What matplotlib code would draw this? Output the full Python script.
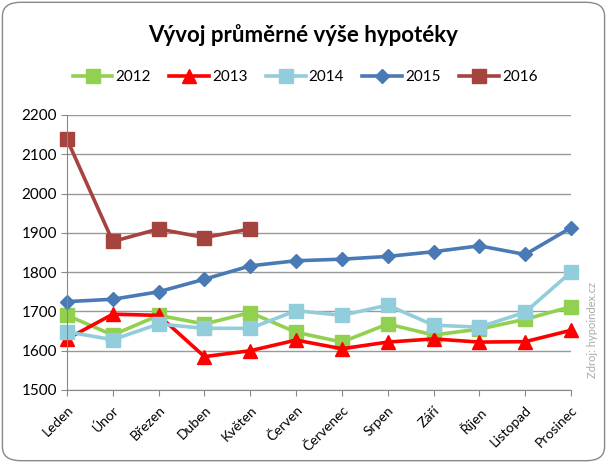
import matplotlib
matplotlib.use("Agg")
import matplotlib.pyplot as plt
from matplotlib.patches import FancyBboxPatch

plt.rcParams['font.family'] = ['Lato', 'DejaVu Sans']

months = ["Leden", "Únor", "Březen", "Duben", "Květen", "Červen",
          "Červenec", "Srpen", "Září", "Říjen", "Listopad", "Prosinec"]
y2012 = [1690, 1640, 1690, 1668, 1697, 1647, 1622, 1668, 1640, 1655, 1680, 1712]
y2013 = [1630, 1693, 1690, 1585, 1600, 1627, 1605, 1622, 1630, 1622, 1623, 1652]
y2014 = [1648, 1628, 1668, 1657, 1657, 1702, 1690, 1716, 1665, 1660, 1698, 1800]
y2015 = [1725, 1731, 1750, 1782, 1816, 1829, 1833, 1840, 1852, 1867, 1845, 1913]
y2016 = [2138, 1878, 1910, 1888, 1910]

series = [
    ("2012", y2012, "#92d050", "s", 9.5),
    ("2013", y2013, "#ff0000", "^", 9.5),
    ("2014", y2014, "#92cddc", "s", 9.5),
    ("2015", y2015, "#4a7ab5", "D", 7),
    ("2016", y2016, "#a5443f", "s", 9.5),
]

fig = plt.figure(figsize=(6.07, 4.63), dpi=100)
ax = fig.add_axes([67 / 607, 1 - 390 / 463, (571 - 67) / 607, (390 - 115) / 463])

for name, vals, col, mk, ms in series:
    ax.plot(range(len(vals)), vals, color=col, marker=mk, markersize=ms,
            linewidth=2.6, label=name, clip_on=False)

ax.set_xlim(0, 11)
ax.set_ylim(1500, 2200)
ax.set_yticks(range(1500, 2201, 100))
ax.set_xticks(range(12))
ax.set_xticklabels(months, rotation=45, ha="right", rotation_mode="anchor", fontsize=10)
ax.tick_params(axis="y", labelsize=11, length=4, color="#888888", pad=3)
ax.tick_params(axis="x", length=4, color="#888888", pad=6)
ax.grid(axis="y", color="#999999", linewidth=1)
ax.set_axisbelow(True)
for s in ["top", "right"]:
    ax.spines[s].set_visible(False)
for s in ["left", "bottom"]:
    ax.spines[s].set_color("#888888")

fig.text(0.5, 1 - 35 / 463, "Vývoj průměrné výše hypotéky", ha="center", va="center",
         fontsize=16, fontweight="bold")
fig.legend(loc="center", bbox_to_anchor=(305 / 607, 1 - 77 / 463), ncol=5,
           frameon=False, fontsize=11, handlelength=2.6, columnspacing=1.2,
           handletextpad=0.2)
fig.text(592 / 607, 1 - 330 / 463, "Zdroj: hypoindex.cz", rotation=90, ha="center",
         va="center", fontsize=8, color="#aaaaaa")

border = FancyBboxPatch((0.004, 0.005), 0.992, 0.99, boxstyle="round,pad=0,rounding_size=0.03",
                        transform=fig.transFigure, fill=False, edgecolor="#888888", linewidth=1)
fig.patches.append(border)

fig.savefig("out.png", dpi=100)
